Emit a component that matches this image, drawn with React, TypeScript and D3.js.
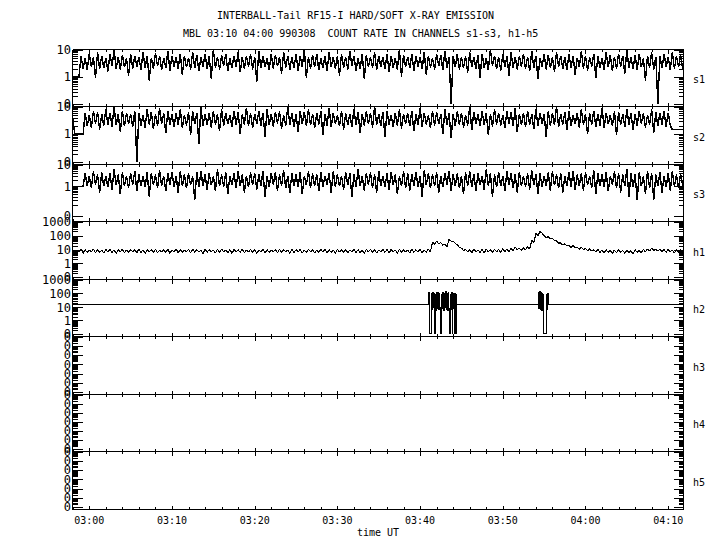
import React from "react";
import * as d3 from "d3";

const TITLE = "INTERBALL-Tail RF15-I HARD/SOFT X-RAY EMISSION";
const SUBTITLE = "MBL 03:10 04:00 990308  COUNT RATE IN CHANNELS s1-s3, h1-h5";
const X_LABEL = "time UT";
const CHANNELS = ["s1", "s2", "s3", "h1", "h2", "h3", "h4", "h5"];

// minutes relative to 03:00 UT, 1999-03-08
const DOMAIN_MIN = [-2.03, 71.85];
const SERIES_START_MIN = -2;
const BIN_MIN = 0.5; // each bin: max and min count rate seen in 30 s

const s1Hi = [
  1,1,
  6,5,7,5.5,8,6,5,7,10,5.5, 6.5,5,7,6,5.5,8,6,5,7.5,6, 5,9,6,5.5,7,6,5,8,6.5,5.5,
  7,6,10,5.5,6.5,7,5,6,8,5.5, 6,7,5.5,9,6,5,7,6.5,5.5,8, 6,5.5,7,6,10,5.5,6.5,7,5,6,
  8,5.5,6,7,5.5,9,6,5,7,6.5, 5.5,8,6,5.5,7,6,5,10,6.5,5.5, 7,6,5.5,8,6,5,7,6.5,9,5.5,
  6,7,5.5,6,8,5.5,6.5,7,5,10, 6,5.5,7,6,8,5.5,6,7,5.5,9, 6,5,7,6.5,5.5,8,6,5.5,7,6,
  5,9,6,5.5,7,6,5,8,6.5,5.5, 7,6,10,5.5,6.5,7,5,6,8,5.5, 6,7,5.5,8,6,6.5,
];
const s1Lo = [
  1,1,
  2,1.8,2.4,0.9,2,2.2,1.6,2.5,2,1.9, 2.3,1.1,2,2.4,1.8,2.2,0.7,2,2.5,1.9, 2.1,1.7,2.4,2,1.2,2.3,1.9,2.1,1.6,2.4,
  2,0.8,2.2,1.9,2.5,1.7,2.1,2.3,1.5,2, 2.4,1.9,0.6,2.1,2.3,1.8,2,2.5,1.3,2.2, 1.9,2.1,1.7,2.4,0.9,2,2.3,1.8,2.1,1.6,
  2.4,2,1.1,2.2,1.9,2.5,1.7,2,0.8,2.3, 2.1,1.8,2.4,2,1.5,2.2,1.9,1,2.3,2.1, 1.7,2.4,2,1.2,2.2,1.9,2.5,1.8,2.1,0,
  2.3,1.9,2.1,1.4,2.4,2,0.9,2.2,1.8,2.5, 2,1.7,2.3,1.1,2.1,1.9,2.4,2,1.6,2.2, 0.8,2.3,1.9,2.1,1.5,2.4,2,1.8,2.2,1.2,
  2.3,2,1.7,2.4,0.9,2.1,1.9,2.3,1.6,2, 2.4,1.3,2.1,2,1.8,2.3,0.7,2.2,1.9,0, 2.1,2.4,1.8,2,2.3,1.9,
];

const s2Hi = [
  4,1,1,
  6,5,7,6.5,5.5,8,6,10,5.5,7, 6,5.5,7,6,5,8,6.5,5.5,9,6, 7,5.5,6,8,5,6.5,7,6,10,5.5,
  6,7,5.5,8,6,5,7,6.5,5.5,9, 6,5.5,7,6,8,5.5,6.5,7,5,10, 6,5.5,7,6.5,8,5.5,6,7,5.5,9,
  6,5,7,6,5.5,8,6.5,5.5,7,6, 10,5.5,6.5,7,5,6,8,5.5,6,7, 5.5,9,6,5,7,6.5,5.5,8,6,5.5,
  7,6,5,10,6.5,5.5,7,6,5.5,8, 6,5,7,6.5,9,5.5,6,7,5.5,8, 6,5.5,7,6,10,5.5,6.5,7,5,6,
  8,5.5,6,7,5.5,9,6,5,7,6.5, 5.5,8,6,5.5,7,6,5,8,6.5,6, 7,6,1.5,1.5,1.5,
];
const s2Lo = [
  1,1,1,
  2,1.8,2.4,1.5,2.1,2.3,1.9,2.2,1.2,2, 2.4,1.9,0,2.1,1.8,2.3,1.6,2,2.4,1.1, 2.2,1.9,2.3,1.7,2.1,0.9,2.4,0.4,2,2.2,
  1.8,2.3,1.3,2.1,2.4,1.9,2.2,1,2.3,2, 1.7,2.4,2.1,0.8,2.2,1.9,2.5,1.6,2.1,2.3, 1.9,1.2,2.4,2,2.2,1.7,2.3,0.9,2.1,1.9,
  2.4,2,1.5,2.2,1.9,2.3,1.1,2.1,2.4,1.8, 2.2,2,0.8,2.3,1.9,2.1,1.6,2.4,2,1.3, 2.2,1.9,2.3,1.7,2.1,2.4,1,2.2,0.7,2,
  2.3,1.8,2.1,1.4,2.4,2,2.2,0.9,1.9,2.3, 2.1,1.7,2.4,2,1.2,2.2,1.9,2.3,1.6,2.1, 2.4,0.8,2,2.2,1.9,2.3,1.5,2.1,2.4,1.8,
  2.2,1,2.3,1.9,2.1,1.7,2.4,2,0.9,2.2, 1.9,2.3,1.4,2.1,2.4,1.8,2.2,1.1,2,2.3, 1.9,2.1,1.5,1.5,1.5,
];

const s3Hi = [
  1,1,1,
  4,3,5,3.5,4.5,3,4,6,3.5,4.5, 3,4,5,3.5,3,4.5,4,3.5,5.5,3, 4,4.5,3,5,3.5,4,3,4.5,5,3.5,
  4,3,6,3.5,4.5,3,4,5,3.5,3, 4.5,4,3.5,5,3,4,4.5,3.5,5.5,3, 4,3.5,4.5,3,5,4,3.5,4.5,3,4,
  5,3.5,3,4.5,4,3.5,6,3,4,4.5, 3.5,5,3,4,4.5,3.5,3,5,4,3.5, 4.5,3,5.5,4,3.5,4.5,3,4,5,3.5,
  4,3,4.5,5,3.5,4,3,6,4,3.5, 4.5,3,5,4,3.5,4.5,3,4,5.5,3.5, 4,3,4.5,5,3.5,4,3,4.5,5,3.5,
  4,4.5,3,5.5,4,3.5,4.5,3,5,4, 3.5,6,4,3.5,4.5,3,5,4,3.5,4.5, 3,4,5,3.5,4,
];
const s3Lo = [
  1,1,1,
  1,0.8,1.2,0.5,1,0.9,0.7,1.1,0.4,1, 0.8,1.2,0.6,1,0.9,0.3,1.1,0.8,1,0.6, 1.2,0.9,0.5,1,0.8,1.1,0.2,0.9,1,0.7,
  1.1,0.6,1,0.9,0.4,1.2,0.8,1,0.5,0.9, 1.1,0.7,1,0.3,0.9,1.2,0.6,1,0.8,0.5, 1,0.9,0.4,1.1,0.8,1,0.6,0.9,1.2,0.5,
  0.9,1,0.7,1.1,0.3,0.9,1,0.6,1.2,0.8, 0.5,1,0.9,0.7,1.1,0.4,1,0.8,0.6,1, 0.9,0.3,1.1,0.8,1,0.5,0.9,1.2,0.6,1,
  0.8,0.4,1,0.9,0.6,1.1,0.7,1,0.3,0.9, 1,0.6,1.2,0.8,0.5,1,0.9,0.7,1.1,0.4, 0.9,1,0.6,1.1,0.8,0.5,1,0.9,0.7,1,
  0.6,1.1,0.8,0.4,1,0.9,0.6,1.2,0.8,0.5, 1,0.3,0.9,0.2,1,0.4,0.8,0.2,1,0.5, 0.9,0.6,1,0.8,1,
];

const h1Hi = [
  10,9.5,11,10,9.5,11,10,9.5,10.5,11,9.5,10,11,9.5,10.5,10,11,9.5,10,10.5,
  11,9.5,10,10.5,9.5,11,10,9.5,10.5,11,10,9.5,11,10,9.5,10.5,11,9.5,10,10.5,
  10,11,9.5,10.5,10,9.5,11,10,9.5,10.5,11,10,9.5,11,10,10.5,9.5,11,10,9.5,
  10.5,11,10,9.5,11,10,10.5,9.5,11,10,9.5,10.5,11,10,9.5,11,10,10.5,9.5,11,
  10,9.5,11,10,10.5,9.5,11,36,40,32,25,55,42,22,13,10.5,10,11,9.5,10.5,
  11,10,10.5,11,12,11,13,15,13,14,17,48,140,200,100,85,62,42,30,27,
  21,21,15,15,12,12,10,10.5,9.5,10,9,9.5,10,9,9.5,8.5,10,9,10.5,11.5,
  13,11,11,10,10.5,9.5,10,10,
];
const h1Lo = [
  6.5,7,5.5,6.5,7,6,6.5,6,7,6.5,5.5,7,6,6.5,7,6,6.5,5.5,7,6.5,
  6,7,6.5,5.5,7,6,6.5,7,6,6.5,7,5,6.5,7,6,6.5,7,6,5.5,7,
  6.5,6,7,6.5,5.5,7,6,6.5,7,6,6.5,7,5.5,6.5,7,6,6.5,7,6,6.5,
  7,6,6.5,5.5,7,6.5,6,7,6.5,6,5.5,7,6.5,6,7,6.5,6,7,5.5,6.5,
  7,6,6.5,7,6,6.5,7,24,27,21,17,40,29,15,9,7,6,7,6.5,6,
  7,6.5,7,6,7.5,7,8.5,10,9,9.5,11,33,100,150,72,62,45,30,22,19,
  15,14,11,10.5,8.5,8,7,6.5,6,6.5,5.5,6,6.5,5.5,6,5,6.5,6,7,8,
  9,8,7.5,6.5,7,6,6.5,6.5,
];

const h2Minutes = [
  -2.1,
  41.06,41.11,41.40,41.47,41.55,41.62,41.70,41.77,41.82,41.90,41.98,42.06,42.14,42.22,42.30,42.36,42.41,
  42.61,42.68,42.76,42.84,42.92,43.00,43.08,43.16,43.24,43.32,43.40,43.47,43.53,
  43.70,43.76,43.84,43.94,43.97,44.03,44.08,44.13,44.16,44.22,44.28,44.34,44.43,44.46,
  54.29,54.36,54.44,54.52,54.60,54.68,54.76,54.84,54.92,54.98,55.31,55.38,55.44,55.50,
  72,
];
const h2Values = [
  17,
  110,0,95,7,120,9,105,0,90,6,125,8,110,7,100,9,0,
  85,8,120,6,105,9,130,7,100,6,115,8,0,
  90,7,110,0,95,8,105,0,80,7,100,0,90,17,
  120,8,140,7,110,6,100,9,90,0,85,7,95,17,
  17,
];

// y-axis settings per channel: top value, offset for the log(v + c) transform, px between zero and panel bottom
const axisTop = [10, 10, 10, 1000, 1000, 0.1, 0.1, 0.1];
const axisOffset = [0.13, 0.13, 0.05, 0.13, 0.13, 0, 0, 0];
const axisZeroGap = [3, 3, 6, 3, 3, 2.5, 2.5, 2.5];

const BASE = Date.UTC(1999, 2, 8, 3, 0, 0);
const tm = (m: number) => new Date(BASE + m * 60000);

export default function App() {
  const W = 720, H = 550;
  const X0 = 72.5, X1 = 683.5;
  const PT = 49, PH = 57.5;
  const x = d3.scaleUtc().domain([tm(DOMAIN_MIN[0]), tm(DOMAIN_MIN[1])]).range([X0, X1]);
  const bounds = d3.range(9).map((i) => Math.floor(PT + i * PH) + 0.5);
  const font = "'DejaVu Sans Mono', monospace";
  const fmt = d3.utcFormat("%H:%M");
  const majorT = x.ticks(d3.utcMinute.every(10) as any);
  const minorT = x.ticks(d3.utcMinute.every(2) as any).filter((d) => d.getUTCMinutes() % 10 !== 0);

  const panels = CHANNELS.map((name, pi) => {
    const y0 = bounds[pi], y1 = bounds[pi + 1];
    const hi = axisTop[pi], c = axisOffset[pi], gap = axisZeroGap[pi];
    let yf: (v: number) => number;
    let ticks: { v: number; major: boolean; label: string | null }[] = [];
    if (c > 0) {
      const f = (v: number) => Math.log10(Math.max(0, v) + c);
      const lin = d3.scaleLinear().domain([f(0), f(hi)]).range([y1 - gap, y0]);
      yf = (v: number) => lin(f(v));
      const topExp = Math.round(Math.log10(hi));
      for (let e = topExp; e >= 0; e--) ticks.push({ v: Math.pow(10, e), major: true, label: String(Math.pow(10, e)) });
      ticks.push({ v: 0, major: true, label: "0" });
      for (let e = -1; e < topExp; e++) for (let m = (e === -1 ? 1 : 2); m <= 9; m++) ticks.push({ v: m * Math.pow(10, e), major: false, label: null });
    } else {
      const ls = d3.scaleLog().domain([hi * 1e-6, hi]).range([y1 - gap, y0]);
      yf = (v: number) => ls(v);
      ticks = ls.ticks().map((v) => {
        const lg = Math.log10(v);
        const major = Math.abs(lg - Math.round(lg)) < 1e-6;
        return { v, major, label: major ? "0" : null };
      });
    }
    return { name, pi, y0, y1, yf, ticks };
  });

  // min/max trace: each bin drawn from its maximum to its minimum
  const bands = [
    { pi: 0, lo: s1Lo, hi: s1Hi, w: 1.4 },
    { pi: 1, lo: s2Lo, hi: s2Hi, w: 1.4 },
    { pi: 2, lo: s3Lo, hi: s3Hi, w: 1.4 },
    { pi: 3, lo: h1Lo, hi: h1Hi, w: 1.1 },
  ];
  const tracePaths = bands.map((b) => {
    const pts: [number, number][] = [];
    b.hi.forEach((v, i) => {
      const t0 = SERIES_START_MIN + i * BIN_MIN;
      pts.push([t0, v]);
      pts.push([t0 + BIN_MIN / 2, b.lo[i]]);
    });
    const yf = panels[b.pi].yf;
    const line = d3.line<[number, number]>()
      .x((d) => x(tm(d[0])))
      .y((d) => yf(d[1]))
      .curve(d3.curveLinear);
    return { pi: b.pi, w: b.w, d: line(pts) || "" };
  });
  const h2Line = d3.line<number>()
    .x((_, i) => x(tm(h2Minutes[i])))
    .y((v) => panels[4].yf(v))
    .curve(d3.curveStepAfter);
  const h2Path = h2Line(h2Values) || "";

  return (
    <svg width={W} height={H} style={{ position: "absolute", left: 0, top: 0, background: "#fff" }} shapeRendering="crispEdges">
      <rect x={0} y={0} width={W} height={H} fill="#fff" />
      <defs>
        {panels.map((p) => (
          <clipPath id={`clip${p.pi}`} key={p.pi}>
            <rect x={X0} y={p.y0} width={X1 - X0} height={p.y1 - p.y0 + 0.5} />
          </clipPath>
        ))}
      </defs>
      <text x={217} y={18.5} fontFamily={font} fontSize={10} fill="#000">{TITLE}</text>
      <text x={183} y={37} fontFamily={font} fontSize={10} fill="#000" style={{ whiteSpace: "pre" }}>{SUBTITLE}</text>

      {tracePaths.map((p, i) => (
        <path key={i} d={p.d} fill="none" stroke="#000" strokeWidth={p.w} strokeLinejoin="bevel" clipPath={`url(#clip${p.pi})`} />
      ))}
      <path d={h2Path} fill="none" stroke="#000" strokeWidth={1} clipPath="url(#clip4)" />

      {bounds.map((b, i) => (
        <line key={`b${i}`} x1={X0} x2={X1} y1={b} y2={b} stroke="#000" />
      ))}
      <line x1={X0} x2={X0} y1={bounds[0]} y2={bounds[8]} stroke="#000" />
      <line x1={X1} x2={X1} y1={bounds[0]} y2={bounds[8]} stroke="#000" />

      {bounds.map((b, i) => (
        <g key={`xt${i}`}>
          {majorT.map((t, j) => {
            const xx = Math.round(x(t)) + 0.5;
            const up = i === 0 ? 0 : 4, dn = i === 8 ? 0 : 4;
            return <line key={`M${j}`} x1={xx} x2={xx} y1={b - up} y2={b + dn} stroke="#000" />;
          })}
          {minorT.map((t, j) => {
            const xx = Math.round(x(t)) + 0.5;
            const up = i === 0 ? 0 : 2.5, dn = i === 8 ? 0 : 2.5;
            return <line key={`m${j}`} x1={xx} x2={xx} y1={b - up} y2={b + dn} stroke="#000" />;
          })}
        </g>
      ))}

      {panels.map((p) => (
        <g key={`ya${p.pi}`}>
          {p.ticks.map((t, j) => {
            const yy = Math.round(p.yf(t.v)) + 0.5;
            const len = t.major ? 10 : 5;
            return (
              <g key={j}>
                <line x1={X0} x2={X0 + len} y1={yy} y2={yy} stroke="#000" />
                <line x1={X1 - len} x2={X1} y1={yy} y2={yy} stroke="#000" />
              </g>
            );
          })}
          {p.ticks.filter((t) => t.label !== null).map((t, j) => (
            <text key={`l${j}`} x={71} y={p.yf(t.v) + 4.3} textAnchor="end" fontFamily={font} fontSize={12} fill="#000">{t.label}</text>
          ))}
          <text x={693} y={(p.y0 + p.y1) / 2 + 5} fontFamily={font} fontSize={10} fill="#000">{p.name}</text>
        </g>
      ))}

      {majorT.map((t, j) => (
        <text key={`xl${j}`} x={x(t)} y={523.5} textAnchor="middle" fontFamily={font} fontSize={10} fill="#000">{fmt(t)}</text>
      ))}
      <text x={357} y={536} fontFamily={font} fontSize={10} fill="#000">{X_LABEL}</text>
    </svg>
  );
}
